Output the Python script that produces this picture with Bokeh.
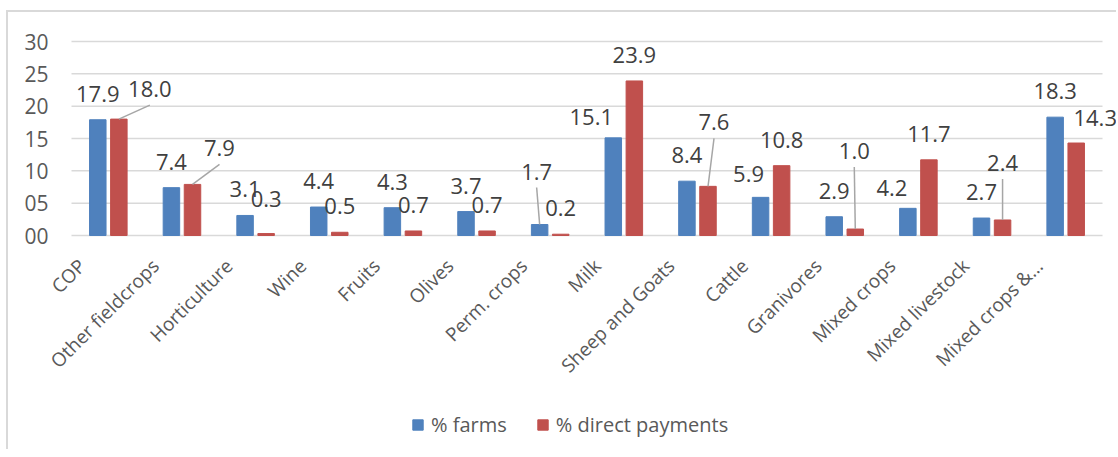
import math
from bokeh.plotting import figure
from bokeh.models import (FixedTicker, PrintfTickFormatter, Range1d, Legend, LegendItem,
                          LabelSet, ColumnDataSource)
from bokeh.core.properties import value
from bokeh.embed import file_html
from bokeh.resources import INLINE

# ---------------- data ----------------
categories = ["COP", "Other fieldcrops", "Horticulture", "Wine", "Fruits", "Olives",
              "Perm. crops", "Milk", "Sheep and Goats", "Cattle", "Granivores",
              "Mixed crops", "Mixed livestock", "Mixed crops &\u2026"]
farms = [17.9, 7.4, 3.1, 4.4, 4.3, 3.7, 1.7, 15.1, 8.4, 5.9, 2.9, 4.2, 2.7, 18.3]
payments = [18.0, 7.9, 0.3, 0.5, 0.7, 0.7, 0.2, 23.9, 7.6, 10.8, 1.0, 11.7, 2.4, 14.3]
series_names = ["% farms", "% direct payments"]
y_ticks = [0, 5, 10, 15, 20, 25, 30]

# ---------------- layout / style ----------------
FONT = "Open Sans"
BLUE = "#4F81BD"
RED = "#C0504D"
GRID = "#D9D9D9"
n = len(categories)
PLOT_W, PLOT_H = 1031, 194       # gridded plot area
LEFT_W = 63                      # room left of the grid for the value labels
EXTRA_R = 14                     # room to the right of the grid for labels
EXTRA_T = 14                     # room above the top gridline for its label
BELOW_H = 214                    # room below the value axis for category labels + legend
Y_MAX = 30
px_x = PLOT_W / n
px_y = PLOT_H / Y_MAX
OFF = 0.143
BAR_W = 0.224
LABEL_UP = 26       # px above bar top (label centre)
CAT_LABEL_SHIFT = -0.36  # category label anchor, relative to group centre

# label nudges in pixels (dx, dy; negative dy = up) and leader-line flags
farms_nudge = {6: (-3, -27), 7: (-22, 5), 9: (-12, 3), 11: (-16, 6)}
pay_nudge = {0: (31, -4), 1: (27, -10), 2: (0, -9), 8: (6, -38), 10: (-1, -52),
             12: (0, -31), 13: (19, 1)}
farms_leader = {6}
pay_leader = {0, 1, 8, 10, 12}

p = figure(frame_width=LEFT_W + PLOT_W + EXTRA_R, frame_height=EXTRA_T + PLOT_H + BELOW_H,
           x_range=Range1d(-0.5 - LEFT_W / px_x, n - 0.5 + EXTRA_R / px_x),
           y_range=Range1d(-BELOW_H / px_y, Y_MAX + EXTRA_T / px_y),
           output_backend="svg", toolbar_location=None,
           min_border_left=0, min_border_right=0, min_border_top=29 - EXTRA_T,
           min_border_bottom=0)
p.styles = {"border-top": "2px solid #D9D9D9", "border-left": "2px solid #D9D9D9",
            "margin-top": "10px", "margin-left": "6px"}
p.outline_line_color = None
p.xgrid.visible = False
p.ygrid.visible = False

# horizontal gridlines over the category area only
p.segment(x0=[-0.5] * len(y_ticks), x1=[n - 0.5] * len(y_ticks), y0=y_ticks, y1=y_ticks,
          line_color=GRID, line_width=1.5)

xs_b = [i - OFF for i in range(n)]
xs_r = [i + OFF for i in range(n)]
rb = p.vbar(x=xs_b, top=farms, width=BAR_W, fill_color=BLUE, line_color=BLUE)
rr = p.vbar(x=xs_r, top=payments, width=BAR_W, fill_color=RED, line_color=RED)


def labels(xs, vals, nudge, leader):
    lx, ly, txt = [], [], []
    sx0, sy0, sx1, sy1 = [], [], [], []
    for i, (x, v) in enumerate(zip(xs, vals)):
        dx, dy = nudge.get(i, (0, 0))
        X = x + dx / px_x
        Y = v + (LABEL_UP - dy) / px_y
        lx.append(X); ly.append(Y); txt.append(f"{v:.1f}")
        if i in leader:
            sx0.append(x); sy0.append(v)
            sx1.append(X); sy1.append(Y - 16 / px_y)
    return lx, ly, txt, sx0, sy0, sx1, sy1


for xs, vals, nudge, leader in [(xs_b, farms, farms_nudge, farms_leader),
                                (xs_r, payments, pay_nudge, pay_leader)]:
    lx, ly, txt, sx0, sy0, sx1, sy1 = labels(xs, vals, nudge, leader)
    if sx0:
        p.segment(x0=sx0, y0=sy0, x1=sx1, y1=sy1, line_color="#A6A6A6", line_width=1.5)
    src = ColumnDataSource(dict(x=lx, y=ly, t=txt))
    p.add_layout(LabelSet(x="x", y="y", text="t", source=src, text_align="center",
                          text_baseline="middle", text_font=value(FONT),
                          text_font_size="22px", text_color="#404040"))

# category axis sits on the zero line
cat_ticks = [i + CAT_LABEL_SHIFT for i in range(n)]
p.xaxis.fixed_location = 0
p.xaxis.ticker = FixedTicker(ticks=cat_ticks)
p.xaxis.major_label_overrides = {x: c for x, c in zip(cat_ticks, categories)}
p.xaxis.major_label_orientation = math.pi / 4
p.xaxis.axis_line_color = None
p.xaxis.major_tick_line_color = None
p.xaxis.minor_tick_line_color = None
p.xaxis.major_tick_out = 0
p.xaxis.major_tick_in = 0
p.xaxis.major_label_standoff = 27
p.xaxis.major_label_text_font = FONT
p.xaxis.major_label_text_font_size = "19px"
p.xaxis.major_label_text_color = "#595959"

# value axis sits on the left edge of the grid
p.yaxis.fixed_location = -0.5
p.yaxis.ticker = FixedTicker(ticks=y_ticks)
p.yaxis.formatter = PrintfTickFormatter(format="%02d")
p.yaxis.axis_line_color = None
p.yaxis.major_tick_line_color = None
p.yaxis.minor_tick_line_color = None
p.yaxis.major_tick_out = 0
p.yaxis.major_tick_in = 0
p.yaxis.major_label_standoff = 23
p.yaxis.major_label_text_font = FONT
p.yaxis.major_label_text_font_size = "21px"
p.yaxis.major_label_text_color = "#595959"

legend = Legend(items=[LegendItem(label=series_names[0], renderers=[rb]),
                       LegendItem(label=series_names[1], renderers=[rr])],
                orientation="horizontal", location=(LEFT_W + 340, 11), padding=0,
                margin=0, spacing=29, label_standoff=7, glyph_width=13, glyph_height=13,
                border_line_color=None, background_fill_alpha=0,
                label_text_font=FONT, label_text_font_size="20px",
                label_text_color="#595959")
p.add_layout(legend)

open("out.html", "w").write(file_html(p, INLINE))
